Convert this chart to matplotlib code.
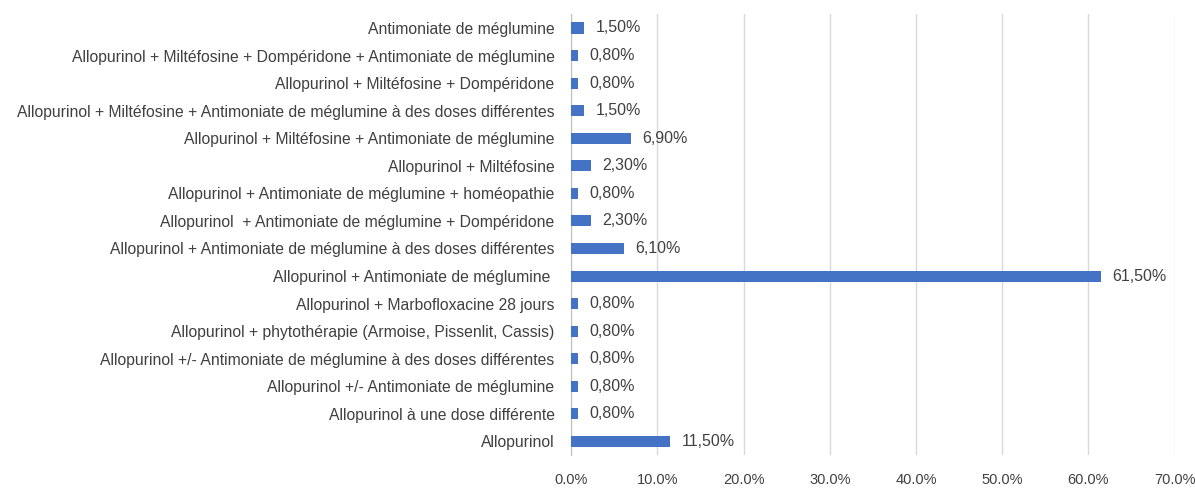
import matplotlib
matplotlib.use("Agg")
import matplotlib.pyplot as plt
from matplotlib.ticker import FuncFormatter

# categories from top to bottom
categories = [
    "Antimoniate de méglumine",
    "Allopurinol + Miltéfosine + Dompéridone + Antimoniate de méglumine",
    "Allopurinol + Miltéfosine + Dompéridone",
    "Allopurinol + Miltéfosine + Antimoniate de méglumine à des doses différentes",
    "Allopurinol + Miltéfosine + Antimoniate de méglumine",
    "Allopurinol + Miltéfosine",
    "Allopurinol + Antimoniate de méglumine + homéopathie",
    "Allopurinol  + Antimoniate de méglumine + Dompéridone",
    "Allopurinol + Antimoniate de méglumine à des doses différentes",
    "Allopurinol + Antimoniate de méglumine ",
    "Allopurinol + Marbofloxacine 28 jours",
    "Allopurinol + phytothérapie (Armoise, Pissenlit, Cassis)",
    "Allopurinol +/- Antimoniate de méglumine à des doses différentes",
    "Allopurinol +/- Antimoniate de méglumine",
    "Allopurinol à une dose différente",
    "Allopurinol",
]
values = [1.5, 0.8, 0.8, 1.5, 6.9, 2.3, 0.8, 2.3, 6.1, 61.5, 0.8, 0.8, 0.8, 0.8, 0.8, 11.5]
value_labels = ["1,50%", "0,80%", "0,80%", "1,50%", "6,90%", "2,30%", "0,80%", "2,30%",
                "6,10%", "61,50%", "0,80%", "0,80%", "0,80%", "0,80%", "0,80%", "11,50%"]

plt.rcParams['font.family'] = ['Liberation Sans', 'DejaVu Sans']
text_color = "#404040"

fig = plt.figure(figsize=(11.95, 4.9), dpi=100)
ax = fig.add_axes([0.478, 0.071, 0.505, 0.900])

y = list(range(len(categories)))
ax.barh(y, values, height=0.4, color="#4472C4", zorder=3)
for yi, v, lab in zip(y, values, value_labels):
    ax.text(v + 1.3, yi, lab, va="center", ha="left", fontsize=11.5, color=text_color)

ax.set_yticks(y)
ax.set_yticklabels(categories, fontsize=11.3, color=text_color)
ax.set_ylim(len(categories) - 0.5, -0.5)
ax.set_xlim(0, 70)
ax.set_xticks(range(0, 71, 10))
ax.xaxis.set_major_formatter(FuncFormatter(lambda v, p: f"{v:.1f}%"))
ax.tick_params(axis="x", labelsize=10.5, colors=text_color, length=0, pad=13)
ax.tick_params(axis="y", length=0, pad=12)
ax.grid(axis="x", color="#d9d9d9", linewidth=1, zorder=0)
for s in ["top", "right", "bottom"]:
    ax.spines[s].set_visible(False)
ax.spines["left"].set_color("#bfbfbf")

fig.savefig("out.png", dpi=100)
